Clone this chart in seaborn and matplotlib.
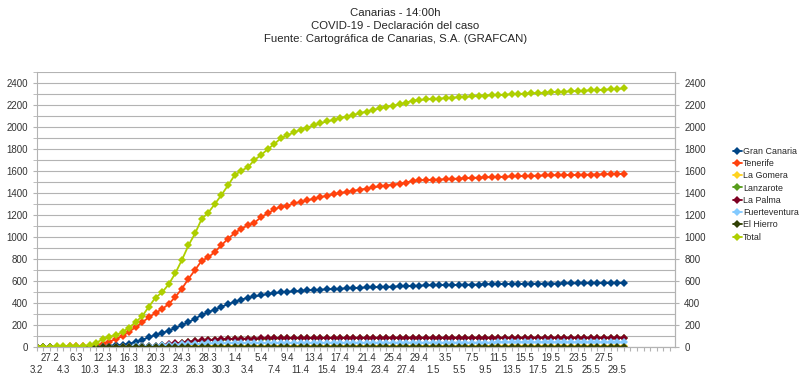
import pandas as pd
import matplotlib.pyplot as plt
import seaborn as sns
from matplotlib.ticker import MultipleLocator, NullFormatter

# fechas (categorías del eje X)
fechas = ['3.2', '25.2', '27.2', '1.3', '4.3', '5.3', '6.3', '9.3'] \
    + [f'{d}.3' for d in range(10, 32)] \
    + [f'{d}.4' for d in range(1, 31)] \
    + [f'{d}.5' for d in range(1, 31)]

gran_canaria = [0, 0, 0, 0, 0, 0, 1, 2, 3, 5,
                7, 10, 14, 20, 30, 45, 65, 88, 110, 125,
                150, 172, 198, 225, 258, 290, 318, 340, 365, 390,
                410, 430, 448, 460, 470, 482, 490, 496, 502, 506,
                510, 514, 518, 521, 524, 527, 530, 533, 536, 539,
                541, 543, 545, 547, 549, 551, 553, 556, 558, 560,
                561, 562, 563, 564, 565, 566, 567, 568, 569, 570,
                571, 572, 572, 573, 574, 575, 575, 576, 577, 577,
                578, 578, 579, 579, 580, 580, 581, 581, 582, 582]

tenerife = [0, 1, 2, 3, 4, 5, 6, 6, 8, 15,
            30, 50, 72, 100, 140, 180, 225, 270, 310, 345,
            390, 455, 530, 620, 700, 785, 815, 865, 925, 985,
            1035, 1075, 1105, 1130, 1180, 1215, 1250, 1276, 1285, 1305,
            1318, 1333, 1348, 1362, 1375, 1388, 1400, 1410, 1420, 1430,
            1440, 1450, 1460, 1468, 1476, 1484, 1495, 1510, 1514, 1518,
            1520, 1522, 1525, 1528, 1531, 1534, 1537, 1540, 1542, 1544,
            1546, 1548, 1550, 1552, 1554, 1556, 1558, 1559, 1560, 1561,
            1562, 1563, 1564, 1566, 1567, 1568, 1569, 1570, 1572, 1573]

la_gomera = [1, 1, 1, 1, 1, 1, 1, 1, 1, 1,
             2, 2, 2, 2, 3, 3, 3, 4, 4, 5,
             5, 5, 6, 6, 6, 7, 7, 7, 7, 7,
             8, 8, 8, 8, 8, 8, 8, 8, 8, 8,
             8, 8, 8, 8, 8, 8, 8, 8, 8, 8,
             8, 8, 8, 8, 8, 8, 8, 8, 8, 8,
             8, 8, 8, 8, 8, 8, 8, 8, 8, 8,
             8, 8, 8, 8, 8, 8, 8, 8, 8, 8,
             8, 8, 8, 8, 8, 8, 8, 8, 8, 8]

lanzarote = [0, 0, 0, 0, 0, 0, 0, 0, 0, 0,
             0, 1, 1, 2, 2, 3, 5, 7, 11, 16,
             22, 30, 38, 46, 53, 58, 62, 65, 68, 70,
             72, 73, 74, 75, 76, 77, 78, 78, 79, 79,
             80, 80, 80, 81, 81, 81, 81, 82, 82, 82,
             82, 82, 82, 83, 83, 83, 83, 83, 83, 83,
             83, 83, 83, 83, 83, 84, 84, 84, 84, 84,
             84, 84, 84, 84, 84, 84, 84, 84, 84, 84,
             84, 84, 84, 84, 84, 84, 84, 84, 84, 84]

la_palma = [0, 0, 0, 0, 0, 0, 0, 0, 0, 0,
            0, 1, 1, 2, 2, 3, 5, 8, 12, 17,
            24, 32, 40, 48, 55, 60, 64, 67, 70, 72,
            74, 75, 76, 77, 78, 79, 80, 80, 81, 81,
            82, 82, 82, 83, 83, 83, 83, 84, 84, 84,
            84, 84, 84, 85, 85, 85, 85, 85, 85, 85,
            85, 85, 85, 85, 85, 85, 85, 85, 85, 85,
            85, 85, 85, 85, 85, 86, 86, 86, 86, 86,
            86, 86, 86, 86, 86, 86, 86, 86, 86, 86]

fuerteventura = [0, 0, 0, 0, 0, 0, 0, 0, 0, 0,
                 0, 1, 2, 3, 4, 6, 8, 10, 12, 14,
                 17, 20, 23, 26, 28, 30, 32, 33, 34, 35,
                 36, 36, 37, 37, 37, 37, 38, 38, 38, 38,
                 38, 38, 38, 38, 39, 39, 39, 39, 39, 39,
                 39, 39, 39, 39, 39, 40, 40, 40, 40, 40,
                 40, 40, 40, 40, 40, 40, 40, 40, 40, 40,
                 41, 41, 41, 41, 41, 41, 41, 41, 41, 41,
                 41, 41, 41, 41, 41, 41, 41, 41, 41, 41]

el_hierro = [0, 0, 0, 0, 0, 0, 0, 0, 0, 0,
             0, 0, 0, 0, 0, 1, 1, 1, 1, 1,
             1, 1, 2, 2, 2, 2, 2, 2, 2, 2,
             3, 3, 3, 3, 3, 3, 3, 3, 3, 3,
             3, 3, 3, 3, 3, 3, 3, 3, 3, 3,
             3, 3, 3, 3, 3, 3, 3, 3, 3, 3,
             3, 3, 3, 3, 3, 3, 3, 3, 3, 3,
             3, 3, 3, 3, 3, 3, 3, 3, 3, 3,
             3, 3, 3, 3, 3, 3, 3, 3, 3, 3]

total = [1, 2, 4, 6, 7, 9, 10, 11, 14, 39,
         70, 94, 106, 139, 176, 227, 282, 367, 449, 497,
         570, 670, 791, 924, 1033, 1164, 1221, 1300, 1382, 1470,
         1561, 1603, 1633, 1700, 1745, 1797, 1845, 1897, 1925, 1950,
         1975, 1995, 2015, 2035, 2050, 2065, 2080, 2095, 2110, 2125,
         2140, 2155, 2170, 2185, 2195, 2205, 2220, 2240, 2245, 2250,
         2254, 2258, 2262, 2266, 2270, 2274, 2278, 2282, 2285, 2288,
         2291, 2294, 2297, 2300, 2303, 2306, 2309, 2312, 2315, 2318,
         2321, 2324, 2327, 2330, 2333, 2336, 2339, 2342, 2346, 2350]

islas = ['Gran Canaria', 'Tenerife', 'La Gomera', 'Lanzarote',
         'La Palma', 'Fuerteventura', 'El Hierro', 'Total']
colores = ['#004586', '#ff420e', '#ffd320', '#579d1c',
           '#7e0021', '#83caff', '#314004', '#aecf00']

datos = pd.DataFrame({
    'idx': range(len(fechas)),
    'Gran Canaria': gran_canaria,
    'Tenerife': tenerife,
    'La Gomera': la_gomera,
    'Lanzarote': lanzarote,
    'La Palma': la_palma,
    'Fuerteventura': fuerteventura,
    'El Hierro': el_hierro,
    'Total': total,
})
largo = datos.melt(id_vars='idx', var_name='isla', value_name='casos')

sns.set_style('white')
plt.rcParams['font.family'] = ['Liberation Sans', 'DejaVu Sans']

gris = '#b3b3b3'
texto = '#333333'

fig = plt.figure(figsize=(8, 3.82), dpi=100)
ax = fig.add_axes([0.046, 0.0916, 0.798, 0.72])

sns.lineplot(data=largo, x='idx', y='casos', hue='isla', hue_order=islas,
             palette=colores, marker='D', markersize=3.9, markeredgewidth=0,
             linewidth=1.3, ax=ax)

ax.set_xlim(0, 96.8)
ax.set_ylim(0, 2500)
ax.yaxis.set_major_locator(MultipleLocator(200))
ax.yaxis.set_minor_locator(MultipleLocator(100))
ax.grid(True, which='both', axis='y', color=gris, linewidth=0.8)
ax.set_axisbelow(True)

# etiquetas del eje X escalonadas en dos filas
arriba = list(range(2, 89, 4))
abajo = list(range(0, 89, 4))
ax.set_xticks(arriba)
ax.set_xticklabels([fechas[i] for i in arriba])
ax.set_xticks(abajo, minor=True)
ax.set_xticklabels([fechas[i] for i in abajo], minor=True)
ax.tick_params(axis='x', which='major', length=0, pad=4, labelsize=7,
               labelcolor=texto)
ax.tick_params(axis='x', which='minor', length=0, pad=13, labelsize=7,
               labelcolor=texto)

# marcas de cada categoría
marcas = ax.secondary_xaxis('bottom')
marcas.set_xticks(range(0, 97))
marcas.xaxis.set_major_formatter(NullFormatter())
marcas.tick_params(axis='x', length=3, color=gris)
marcas.spines['bottom'].set_color(gris)
marcas.spines['bottom'].set_linewidth(0.8)

ax.tick_params(axis='y', which='both', length=3, color=gris,
               labelsize=7, labelcolor=texto)
ax.set_xlabel('')
ax.set_ylabel('')

for lado in ['left', 'bottom', 'right']:
    ax.spines[lado].set_color(gris)
    ax.spines[lado].set_linewidth(0.8)
ax.spines['top'].set_visible(False)

ax2 = ax.twinx()
ax2.set_ylim(0, 2500)
ax2.yaxis.set_major_locator(MultipleLocator(200))
ax2.tick_params(axis='y', length=3, color=gris, labelsize=7,
                labelcolor=texto)
for lado in ['left', 'bottom', 'top']:
    ax2.spines[lado].set_visible(False)
ax2.spines['right'].set_color(gris)

handles, labels = ax.get_legend_handles_labels()
ax.legend(handles, labels, loc='upper left', bbox_to_anchor=(0.916, 0.616),
          bbox_transform=fig.transFigure, frameon=False, fontsize=6.4,
          handlelength=1.0, handletextpad=0.15, labelspacing=0.37,
          borderaxespad=0, borderpad=0)

fig.text(0.494, 0.965, 'Canarias - 14:00h', ha='center', va='center', fontsize=8.2)
fig.text(0.494, 0.932, 'COVID-19 - Declaración del caso', ha='center', va='center', fontsize=8.2)
fig.text(0.494, 0.898, 'Fuente: Cartográfica de Canarias, S.A. (GRAFCAN)', ha='center', va='center', fontsize=8.2)

fig.savefig('out.png', dpi=100, facecolor='white')
